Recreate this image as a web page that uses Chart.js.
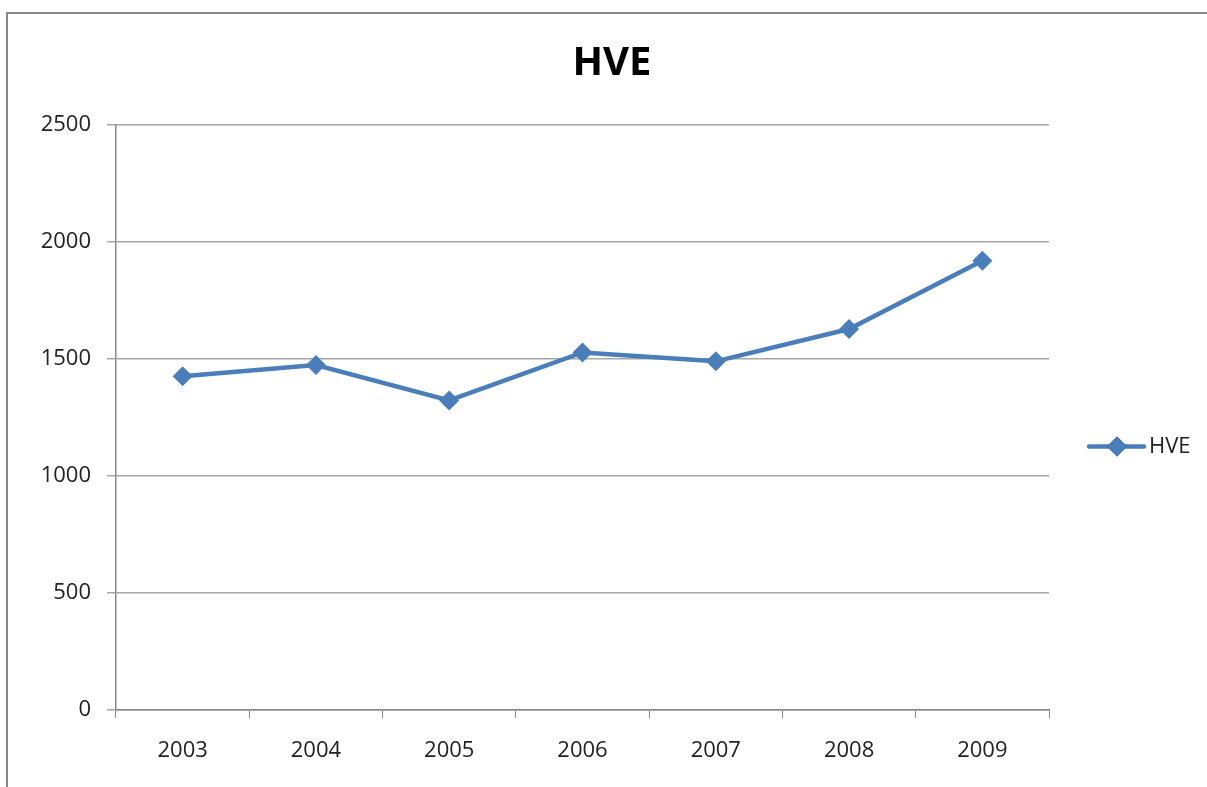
<!DOCTYPE html>
<html>
<head>
<meta charset="utf-8">
<script src="https://cdn.jsdelivr.net/npm/chart.js@4/dist/chart.umd.min.js"></script>
<style>
  html, body { margin: 0; padding: 0; background: #fff; overflow: hidden; }
  #frame {
    position: absolute; left: 6px; top: 12px; width: 1300px; height: 900px;
    border-left: 2px solid #888; border-top: 2px solid #888;
  }
  #wrap { position: absolute; left: 0; top: 0; width: 1207px; height: 787px; }
</style>
</head>
<body>
<div id="frame"></div>
<div id="wrap"><canvas id="chart" width="1207" height="787"></canvas></div>
<script>
// Chart data
const years = ['2003', '2004', '2005', '2006', '2007', '2008', '2009'];
const hveValues = [1426, 1474, 1323, 1528, 1490, 1628, 1920];
const yTicks = [0, 500, 1000, 1500, 2000, 2500];

const LINE_COLOR = '#4a7ebb';
const FONT = "'Open Sans', 'Liberation Sans', sans-serif";

// Legend drawn to the right of the plot: line with a diamond, then the label
const sideLegend = {
    id: 'sideLegend',
    afterDraw(chart) {
        const ctx = chart.ctx;
        const area = chart.chartArea;
        const ds = chart.data.datasets[0];
        const x0 = area.right + 40;
        const y = area.top + (area.bottom - area.top) / 2 + 29;

        ctx.save();
        ctx.strokeStyle = ds.borderColor;
        ctx.lineWidth = ds.borderWidth;
        ctx.lineCap = 'round';
        ctx.beginPath();
        ctx.moveTo(x0, y);
        ctx.lineTo(x0 + 55, y);
        ctx.stroke();

        Chart.helpers.drawPoint(ctx, { pointStyle: 'rectRot', radius: ds.pointRadius, borderWidth: 0 }, x0 + 28, y);
        ctx.fillStyle = ds.pointBackgroundColor;
        ctx.fill();

        ctx.fillStyle = '#222';
        ctx.font = '22px ' + FONT;
        ctx.textBaseline = 'middle';
        ctx.textAlign = 'left';
        ctx.fillText(ds.label, x0 + 60, y);
        ctx.restore();
    }
};

new Chart(document.getElementById('chart'), {
    type: 'line',
    data: {
        labels: years,
        datasets: [{
            label: 'HVE',
            data: hveValues,
            borderColor: LINE_COLOR,
            borderWidth: 4.5,
            tension: 0,
            pointStyle: 'rectRot',
            pointRadius: 10,
            pointBackgroundColor: LINE_COLOR,
            pointBorderColor: LINE_COLOR,
            pointBorderWidth: 0
        }]
    },
    options: {
        responsive: false,
        animation: false,
        layout: { padding: { left: 17, right: 0, top: 0, bottom: 0 } },
        plugins: {
            legend: { display: false },
            tooltip: { enabled: false },
            title: {
                display: true,
                text: 'HVE',
                color: '#000',
                font: { family: FONT, size: 40, weight: 'bold', lineHeight: 1.2 },
                padding: { top: 40, bottom: 37 }
            }
        },
        scales: {
            x: {
                type: 'category',
                offset: true,
                grid: {
                    offset: true,
                    drawOnChartArea: false,
                    drawTicks: true,
                    tickLength: 8,
                    color: '#888'
                },
                border: { color: '#888', width: 1.5 },
                ticks: {
                    color: '#222',
                    padding: 20,
                    maxRotation: 0,
                    font: { family: FONT, size: 22 }
                },
                afterFit(scale) { scale.height = 77; }
            },
            y: {
                min: 0,
                max: 2500,
                afterBuildTicks(scale) { scale.ticks = yTicks.map(v => ({ value: v })); },
                grid: {
                    color: '#a6a6a6',
                    lineWidth: 1.5,
                    tickLength: 9
                },
                border: { color: '#888', width: 1.5 },
                ticks: {
                    color: '#222',
                    padding: 16,
                    font: { family: FONT, size: 22 },
                    callback: (value) => String(value)
                },
                afterFit(scale) { scale.width = 99; }
            },
            legendSpace: {
                position: 'right',
                display: true,
                grid: { display: false },
                border: { display: false },
                ticks: { display: false },
                afterFit(scale) { scale.width = 158; }
            }
        }
    },
    plugins: [sideLegend]
});
</script>
</body>
</html>
